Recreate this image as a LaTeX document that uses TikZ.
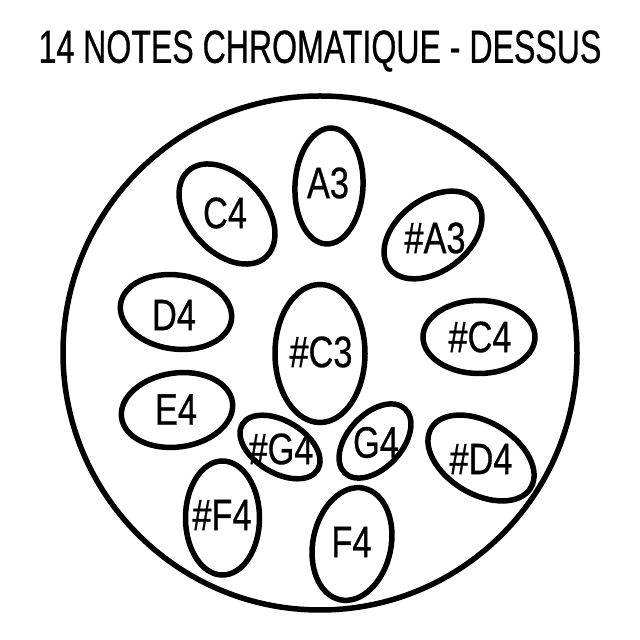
\documentclass[tikz,border=0pt]{standalone}
\usepackage{fontspec}
\setmainfont{Liberation Sans}
\newfontfamily\titlefont{Liberation Sans}[FakeStretch=0.69,FakeBold=0.6]
\newfontfamily\notefont{Liberation Sans}[FakeStretch=0.78,FakeBold=0.6]
\usetikzlibrary{shapes.geometric}
\tikzset{
  pad/.style={draw=black, line width=5.5pt, ellipse, inner sep=0pt},
  lbl/.style={inner sep=0pt, font=\notefont\fontsize{44}{44}\selectfont},
  ttl/.style={inner sep=0pt, font=\titlefont\fontsize{46.5}{46.5}\selectfont}
}
\begin{document}
\begin{tikzpicture}[x=1pt,y=1pt]
\useasboundingbox (0,0) rectangle (640,640);
\fill[white] (0,0) rectangle (640,640);
\node[ttl] (title) at (320,589) {14 NOTES CHROMATIQUE - DESSUS};
\node[draw=black, line width=5.5pt, circle, inner sep=0pt, minimum size=514pt] (drum) at (320,287) {};
% pads
\node[pad, minimum width=68pt, minimum height=116pt, rotate=-3] (pA3) at (329,454) {};
\node[pad, minimum width=116pt, minimum height=76pt, rotate=-48] (pC4) at (227,426) {};
\node[pad, minimum width=110pt, minimum height=72pt, rotate=37] (pAs3) at (433,405) {};
\node[pad, minimum width=112pt, minimum height=74pt, rotate=-8] (pD4) at (176,328) {};
\node[pad, minimum width=112pt, minimum height=74pt, rotate=8] (pE4) at (177,230) {};
\node[pad, minimum width=90pt, minimum height=138pt] (pCs3) at (320,286.5) {};
\node[pad, minimum width=112pt, minimum height=73pt] (pCs4) at (479,303) {};
\node[pad, minimum width=88pt, minimum height=52pt, rotate=-31] (pGs4) at (280,193) {};
\node[pad, minimum width=88pt, minimum height=54pt, rotate=47] (pG4) at (375,199) {};
\node[pad, minimum width=116pt, minimum height=72pt, rotate=-31] (pDs4) at (481,182) {};
\node[pad, minimum width=74pt, minimum height=114pt] (pFs4) at (222.5,122) {};
\node[pad, minimum width=78pt, minimum height=114pt, rotate=-12] (pF4) at (352,96) {};
% labels
\node[lbl] (tA3) at (328,457) {A3};
\node[lbl] (tC4) at (225,427) {C4};
\node[lbl] (tAs3) at (435,402) {\#A3};
\node[lbl] (tD4) at (174,325) {D4};
\node[lbl] (tE4) at (176,230.5) {E4};
\node[lbl] (tCs3) at (321,288) {\#C3};
\node[lbl] (tCs4) at (480,303) {\#C4};
\node[lbl] (tGs4) at (281,191) {\#G4};
\node[lbl] (tG4) at (376,197.5) {G4};
\node[lbl] (tDs4) at (481,181) {\#D4};
\node[lbl] (tFs4) at (222,125) {\#F4};
\node[lbl] (tF4) at (351.5,98) {F4};
\end{tikzpicture}
\end{document}
